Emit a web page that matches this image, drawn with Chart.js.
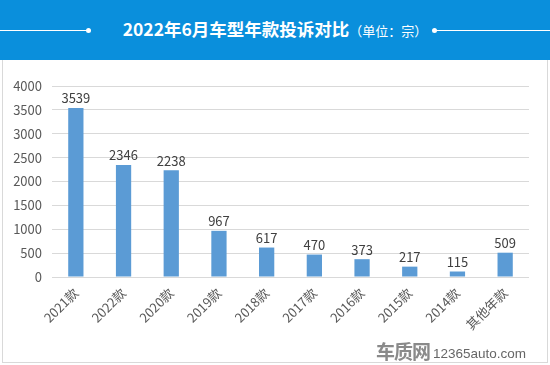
<!DOCTYPE html>
<html><head><meta charset="utf-8">
<script src="https://cdn.jsdelivr.net/npm/chart.js@4/dist/chart.umd.min.js"></script>
<style>
html,body{margin:0;padding:0;background:#fff;}
#wrap{position:relative;width:550px;height:365px;overflow:hidden;font-family:"Noto Sans CJK SC","Microsoft YaHei",sans-serif;}
#head{position:absolute;left:0;top:0;width:550px;height:60px;background:#0a8fdc;}
#title{position:absolute;left:0;top:15px;width:550px;text-align:center;color:#fff;font-size:17.5px;font-weight:bold;line-height:28px;}
#title span{font-size:13px;font-weight:normal;}
.ln{position:absolute;top:30px;height:1px;background:#fff;}
.dot{position:absolute;top:28px;width:5px;height:5px;border-radius:50%;background:#fff;}
#frame{position:absolute;left:2px;top:60px;width:544px;height:302px;border:1px solid #d9d9d9;border-top:none;}
#cv{position:absolute;left:0;top:60px;}
#logo{position:absolute;left:376px;top:337px;font-size:13.5px;color:#666;font-family:Arial,"Liberation Sans",sans-serif;white-space:nowrap;}
#logo b{font-size:19px;color:#8a8a8a;font-family:"Noto Sans CJK SC",sans-serif;vertical-align:-1px;margin-right:3px;letter-spacing:-1px;}
</style></head>
<body>
<div id="wrap">
<div id="head"></div>
<div class="ln" style="left:0;width:88px"></div><div class="dot" style="left:86px"></div>
<div class="ln" style="left:436px;width:114px"></div><div class="dot" style="left:432px"></div>
<div id="title">2022年6月车型年款投诉对比<span>（单位：宗）</span></div>
<div id="frame"></div>
<canvas id="cv" width="550" height="305"></canvas>
<div id="logo"><b>车质网</b>12365auto.com</div>
</div>
<script>
const categories = ["2021款","2022款","2020款","2019款","2018款","2017款","2016款","2015款","2014款","其他年款"];
const complaints = [3539,2346,2238,967,617,470,373,217,115,509];
const yTicks = [0,500,1000,1500,2000,2500,3000,3500,4000];

const labelPlugin = {
  id:'vals',
  afterDatasetsDraw(chart){
    const ctx = chart.ctx;
    const meta = chart.getDatasetMeta(0);
    ctx.save();
    ctx.fillStyle='#404040';
    ctx.font='13px "Noto Sans CJK SC", sans-serif';
    ctx.textAlign='center';
    ctx.textBaseline='bottom';
    meta.data.forEach((el,i)=>{
      ctx.fillText(String(complaints[i]), el.x, el.y-3);
    });
    ctx.restore();
  }
};

new Chart(document.getElementById('cv'),{
  type:'bar',
  data:{labels:categories,datasets:[{data:complaints,backgroundColor:'#5b9bd5',categoryPercentage:1,barPercentage:0.32}]},
  options:{
    responsive:false,animation:false,
    layout:{padding:{left:8,right:21,top:26,bottom:0}},
    plugins:{legend:{display:false},tooltip:{enabled:false}},
    scales:{
      x:{grid:{display:false},border:{display:false},
         ticks:{color:'#595959',font:{size:13,family:'"Noto Sans CJK SC", sans-serif'},maxRotation:45,minRotation:45,padding:0},
         afterFit(s){s.height=88;}},
      y:{min:0,max:4000,afterBuildTicks(s){s.ticks=yTicks.map(v=>({value:v}));},
         grid:{color:'#d9d9d9',drawTicks:false},border:{display:false},
         ticks:{color:'#595959',font:{size:13,family:'"Noto Sans CJK SC", sans-serif'},padding:10,callback:v=>String(v)},
         afterFit(s){s.width=44;}}
    }
  },
  plugins:[labelPlugin]
});
</script>
</body></html>
